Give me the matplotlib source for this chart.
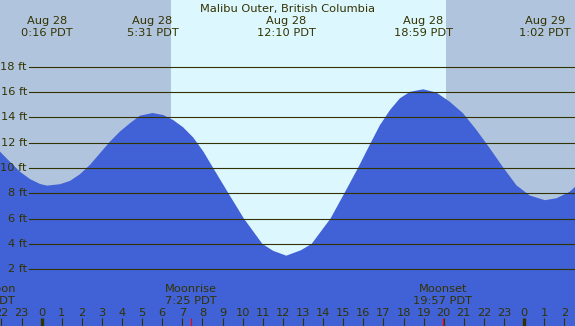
import numpy as np
import matplotlib
matplotlib.use('Agg')
import matplotlib.pyplot as plt
import matplotlib.transforms as mtransforms

station = 'Malibu Outer, British Columbia'

# tide height (hours after Aug 28 0:00 PDT, feet)
tide_hours = [-2.07, -1.58, -1.08, -0.58, -0.08, 0.27, 0.91, 1.41, 1.90, 2.40,
              2.90, 3.40, 3.89, 4.39, 4.89, 5.52, 6.05, 6.54, 7.04, 7.54,
              8.04, 8.53, 9.29, 10.06, 10.98, 11.52, 12.17, 12.90, 13.43, 14.37,
              15.06, 15.74, 16.33, 16.82, 17.33, 17.82, 18.32, 18.98, 19.64, 20.30,
              20.96, 21.63, 22.29, 22.95, 23.62, 24.28, 25.03, 25.61, 26.27, 26.53]
tide_feet = [11.28, 10.49, 9.70, 9.12, 8.73, 8.60, 8.71, 8.97, 9.49, 10.23,
             11.15, 12.07, 12.86, 13.52, 14.12, 14.33, 14.17, 13.78, 13.20, 12.40,
             11.30, 10.00, 8.00, 6.00, 4.00, 3.45, 3.07, 3.50, 4.00, 6.00,
             8.00, 10.00, 11.85, 13.35, 14.57, 15.49, 16.00, 16.20, 15.94, 15.22,
             14.31, 12.99, 11.55, 10.05, 8.62, 7.82, 7.45, 7.60, 8.12, 8.50]

# high / low events labelled along the top
event_hours = [0.27, 5.52, 12.17, 18.98, 25.03]
event_dates = ['Aug 28', 'Aug 28', 'Aug 28', 'Aug 28', 'Aug 29']
event_times = ['0:16 PDT', '5:31 PDT', '12:10 PDT', '18:59 PDT', '1:02 PDT']

# moon events labelled along the bottom
moon_hours = [-2.80, 7.42, 19.95]
moon_names = ['New Moon', 'Moonrise', 'Moonset']
moon_times = ['21:12 PDT', '7:25 PDT', '19:57 PDT']

sunrise = 6.43
sunset = 20.11

grid_feet = [2, 4, 6, 8, 10, 12, 14, 16, 18]
hour_ticks = list(range(-2, 27))

# colours
night_col = '#b0c4de'
day_col = '#ddf7ff'
water_col = '#4161d6'
ink = '#333300'

W, H = 575, 326
fig = plt.figure(figsize=(W / 100, H / 100), dpi=100)
ax = fig.add_axes([0, 0, 1, 1])
ax.set_xlim(-2.07, 26.53)
ax.set_ylim(-2.48, 23.25)
ax.set_facecolor(day_col)
ax.axis('off')
fig.patch.set_facecolor(day_col)

x0, x1 = ax.get_xlim()
y0, y1 = ax.get_ylim()

# night shading
ax.axvspan(x0, sunrise, color=night_col, lw=0, zorder=1)
ax.axvspan(sunset, x1, color=night_col, lw=0, zorder=1)

# water
ax.fill_between(tide_hours, tide_feet, y0, color=water_col, lw=0, zorder=2)

# height grid
for ft in grid_feet:
    ax.axhline(ft, xmin=29 / W, xmax=1, color=ink, lw=0.8, zorder=3)
    ax.text(x0 + 27 / W * (x1 - x0), ft, '%d ft' % ft, ha='right', va='center',
            fontsize=8.2, color=ink, zorder=4)

trans = mtransforms.blended_transform_factory(ax.transData, ax.transAxes)

# title and tide events
fig.text(0.5, 1 - 12.3 / H, station, ha='center', va='baseline', fontsize=8.2, color=ink)
for h, d, t in zip(event_hours, event_dates, event_times):
    ax.text(h, 1 - 24.3 / H, d, transform=trans, ha='center', va='baseline',
            fontsize=8.2, color=ink)
    ax.text(h, 1 - 35.7 / H, t, transform=trans, ha='center', va='baseline',
            fontsize=8.2, color=ink)

# moon events
for h, n, t in zip(moon_hours, moon_names, moon_times):
    ax.text(h, 1 - 291.7 / H, n, transform=trans, ha='center', va='baseline',
            fontsize=8.2, color=ink)
    ax.text(h, 1 - 304.3 / H, t, transform=trans, ha='center', va='baseline',
            fontsize=8.2, color=ink)
    ax.plot([h, h], [0, 8 / H], transform=trans, color='red', lw=0.8, zorder=5,
            solid_capstyle='butt')

# hour ticks
for hr in hour_ticks:
    midnight = hr % 24 == 0
    ax.plot([hr, hr], [0, 8 / H], transform=trans, color=ink,
            lw=2.4 if midnight else 0.8, zorder=4, solid_capstyle='butt')
    ax.text(hr, 1 - 316 / H, str(hr % 24), transform=trans, ha='center',
            va='baseline', fontsize=8.2, color=ink)

fig.savefig('out.png', dpi=100, facecolor=fig.get_facecolor())
